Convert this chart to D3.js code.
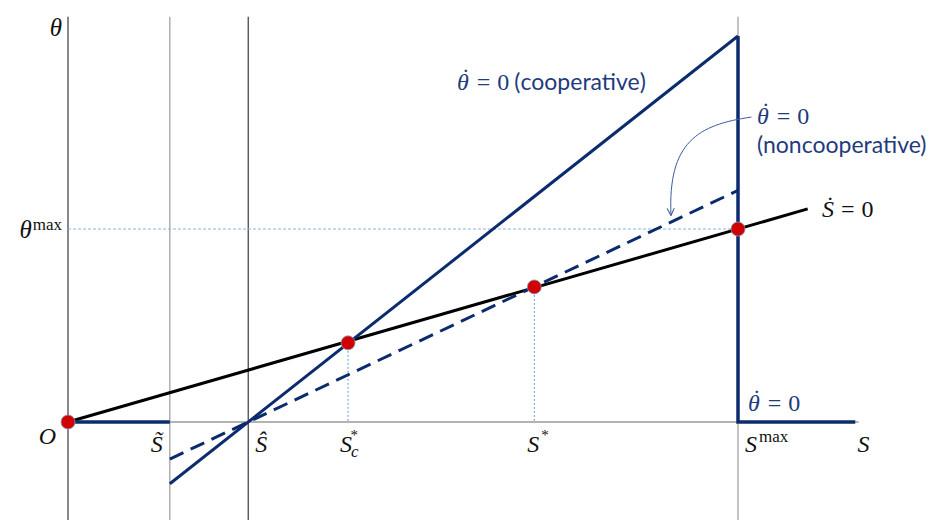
<!DOCTYPE html>
<html>
<head>
<meta charset="utf-8">
<script src="https://cdn.jsdelivr.net/npm/d3@7"></script>
<style>
  html, body { margin: 0; padding: 0; background: #fff; }
  svg { display: block; }
  .math { font-family: "Liberation Serif", "DejaVu Serif", serif; }
  .word { font-family: Lato, "Noto Sans", sans-serif; }
</style>
</head>
<body>
<svg id="chart" width="928" height="520"></svg>
<script>
// Stock levels marked on the S axis (S max normalised to 10)
const sLevels = [0, 1.52, 2.69, 4.18, 6.96, 10];
const sLevelNames = ["O", "tilde", "hat", "coop", "star", "max"];
const sAxisEnd = 11.8;
const thetaTop = 2.1;
const thetaBottom = -0.52;
const thetaMax = 1;

// Ṡ = 0 locus
const sdotS = [0, 11.04];
const sdotTheta = [0, 1.104];

// θ̇ = 0, cooperative
const coopS = [1.52, 10];
const coopTheta = [-0.32, 2.0];

// θ̇ = 0, noncooperative
const noncoopS = [1.52, 10];
const noncoopTheta = [-0.192, 1.2];

// θ̇ = 0 on the boundaries
const lowerBoundS = [0, 1.52];
const upperWallTheta = [0, 2.0];
const rightBoundS = [10, 11.75];

// steady states
const eqS = [0, 4.18, 6.96, 10];
const eqTheta = [0, 0.41, 0.70, 1.0];

const NAVY = "#0b2b6e";
const TEXT_NAVY = "#1f3b7d";

const svg = d3.select("#chart");
const x = d3.scaleLinear().domain([0, 10]).range([68, 738]);
const y = d3.scaleLinear().domain([0, 1]).range([422, 229]);
const line = d3.line().x(d => x(d[0])).y(d => y(d[1]));
const pts = (a, b) => a.map((v, i) => [v, b[i]]);

// vertical guides at O, S̃, Ŝ and S max
const guideColors = ["#3a3a3a", "#9a9a9a", "#3a3a3a", "#9a9a9a"];
[0, 1, 2, 5].forEach((i, k) => {
  svg.append("line")
    .attr("x1", x(sLevels[i])).attr("x2", x(sLevels[i]))
    .attr("y1", y(thetaTop)).attr("y2", y(thetaBottom))
    .attr("stroke", guideColors[k]).attr("stroke-width", 1.2);
});

// S axis
svg.append("line")
  .attr("x1", x(0)).attr("x2", x(sAxisEnd))
  .attr("y1", y(0)).attr("y2", y(0))
  .attr("stroke", "#9a9a9a").attr("stroke-width", 1.6);

// dotted projections
svg.append("line")
  .attr("x1", x(0)).attr("x2", x(eqS[3]))
  .attr("y1", y(thetaMax)).attr("y2", y(thetaMax))
  .attr("stroke", "#8fb4e0").attr("stroke-width", 1).attr("stroke-dasharray", "3,2");
[1, 2].forEach(i => {
  svg.append("line")
    .attr("x1", x(eqS[i])).attr("x2", x(eqS[i]))
    .attr("y1", y(eqTheta[i])).attr("y2", y(0))
    .attr("stroke", "#5b9bd5").attr("stroke-width", 1).attr("stroke-dasharray", "2,2");
});

// Ṡ = 0
svg.append("path").datum(pts(sdotS, sdotTheta)).attr("d", line)
  .attr("fill", "none").attr("stroke", "#000").attr("stroke-width", 3);

// noncooperative θ̇ = 0
svg.append("path").datum(pts(noncoopS, noncoopTheta)).attr("d", line)
  .attr("fill", "none").attr("stroke", NAVY).attr("stroke-width", 3)
  .attr("stroke-dasharray", "15,8");

// cooperative θ̇ = 0
svg.append("path").datum(pts(coopS, coopTheta)).attr("d", line)
  .attr("fill", "none").attr("stroke", NAVY).attr("stroke-width", 3);

// boundary pieces of θ̇ = 0
svg.append("path").datum(pts(lowerBoundS, [0, 0])).attr("d", line)
  .attr("fill", "none").attr("stroke", NAVY).attr("stroke-width", 3.5);
svg.append("path")
  .datum([[10, upperWallTheta[1]], [10, upperWallTheta[0]], [rightBoundS[1], 0]])
  .attr("d", line)
  .attr("fill", "none").attr("stroke", NAVY).attr("stroke-width", 3.5);

// curved pointer to the noncooperative locus
const defs = svg.append("defs");
defs.append("marker").attr("id", "head")
  .attr("viewBox", "0 0 10 10").attr("refX", 9).attr("refY", 5)
  .attr("markerWidth", 9).attr("markerHeight", 9).attr("orient", "auto")
  .attr("markerUnits", "userSpaceOnUse")
  .append("path").attr("d", "M1,1 L9,5 L1,9")
  .attr("fill", "none").attr("stroke", "#3c5c9c").attr("stroke-width", 1.2);
const arrowPts = [[10.2, 1.58], [9.4, 1.54], [8.95, 1.45], [9.0, 1.07]];
svg.append("path")
  .attr("d", `M${x(arrowPts[0][0])},${y(arrowPts[0][1])} C${x(arrowPts[1][0])},${y(arrowPts[1][1])} ${x(arrowPts[2][0])},${y(arrowPts[2][1])} ${x(arrowPts[3][0])},${y(arrowPts[3][1])}`)
  .attr("fill", "none").attr("stroke", "#3c5c9c").attr("stroke-width", 1)
  .attr("marker-end", "url(#head)");

// steady states
svg.selectAll("circle.eq").data(pts(eqS, eqTheta)).join("circle")
  .attr("class", "eq")
  .attr("cx", d => x(d[0])).attr("cy", d => y(d[1])).attr("r", 7)
  .attr("fill", "#d10000").attr("stroke", "#8a94b8").attr("stroke-width", 0.8);

// ---- labels ----
function mathText(px, py, parts, opts = {}) {
  const t = svg.append("text").attr("class", "math")
    .attr("x", px).attr("y", py)
    .attr("font-size", opts.size || 24)
    .attr("fill", opts.color || "#111")
    .attr("text-anchor", opts.anchor || "start");
  parts.forEach(p => {
    const s = t.append("tspan").text(p.t);
    if (p.it) s.attr("font-style", "italic");
    if (p.size) s.attr("font-size", p.size);
    if (p.dy) s.attr("dy", p.dy);
    if (p.dx) s.attr("dx", p.dx);
    if (p.font) s.attr("font-family", p.font);
  });
  return t;
}

// θ with a dot above, followed by "= 0"
const thetaDotZero = [
  { t: "θ", it: true },
  { t: "˙", dx: -7, dy: -5 },
  { t: "=", dx: 7, dy: 5 },
  { t: "0", dx: 7 }
];

// θ axis name and θ max
mathText(62, 36, [{ t: "θ", it: true }], { anchor: "end", size: 25 });
mathText(62, 238, [{ t: "θ", it: true }, { t: "max", size: 17, dy: -8, dx: 1 }], { anchor: "end", size: 25 });

// S axis marks
const baseY = y(0) + 30;
mathText(x(0) - 12, baseY - 8, [{ t: "O", it: true }], { anchor: "end" });
mathText(x(sLevels[1]) - 7, baseY, [{ t: "S̃", it: true }], { anchor: "end" });
mathText(x(sLevels[2]) + 7, baseY, [{ t: "Ŝ", it: true }]);
mathText(x(sLevels[3]) - 8, baseY, [{ t: "S", it: true }, { t: "c", it: true, size: 17, dy: 5, dx: -1 }, { t: "*", size: 15, dy: -17, dx: -8 }]);
mathText(x(sLevels[4]) - 7, baseY, [{ t: "S", it: true }, { t: "*", size: 15, dy: -12, dx: 2 }]);
mathText(x(sLevels[5]) + 7, baseY, [{ t: "S", it: true }, { t: "max", size: 17, dy: -10, dx: 2 }]);
mathText(x(sAxisEnd) - 1, baseY, [{ t: "S", it: true }]);

// locus labels
mathText(457, 90, thetaDotZero, { size: 24, color: TEXT_NAVY })
  .append("tspan").attr("font-family", "Lato, 'Noto Sans', sans-serif").attr("font-size", 23)
  .attr("dx", 5).text("(cooperative)");
mathText(757, 124, thetaDotZero, { size: 24, color: TEXT_NAVY });
svg.append("text").attr("class", "word").attr("x", 757).attr("y", 153)
  .attr("font-size", 23).attr("fill", TEXT_NAVY).text("(noncooperative)");
mathText(822, 217, [{ t: "Ṡ", it: true }, { t: "=", dx: 7 }, { t: "0", dx: 7 }], { size: 24, color: "#111" });
mathText(748, 411, thetaDotZero, { size: 24, color: TEXT_NAVY });
</script>
</body>
</html>
